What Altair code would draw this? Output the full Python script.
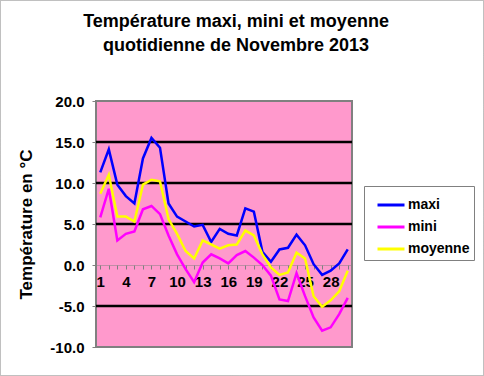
import altair as alt
import pandas as pd

days = list(range(1, 31))
maxi = [11.3, 14.1, 9.8, 8.4, 7.5, 13.0, 15.5, 14.3, 7.5, 5.9,
        5.3, 4.7, 4.9, 2.8, 4.4, 3.8, 3.6, 6.9, 6.5, 1.6,
        0.4, 1.9, 2.1, 3.7, 2.4, 0.1, -1.2, -0.7, 0.2, 1.9]
mini = [5.8, 9.3, 3.0, 3.8, 4.1, 6.8, 7.2, 6.2, 3.6, 1.3,
        -0.5, -2.1, 0.3, 1.3, 0.8, 0.2, 1.2, 1.7, 0.9, 0.0,
        -1.3, -4.2, -4.4, -1.0, -3.8, -6.4, -8.0, -7.6, -6.0, -4.0]
moyenne = [8.7, 11.0, 5.9, 5.9, 5.3, 9.8, 10.4, 10.2, 5.6, 3.8,
           1.7, 0.8, 3.0, 2.5, 2.0, 2.4, 2.5, 4.2, 3.6, 1.3,
           -0.3, -1.2, -0.9, 1.5, 0.8, -3.8, -5.1, -4.3, -3.2, -0.7]
series_names = ["maxi", "mini", "moyenne"]
series_colors = ["#0000FF", "#FF00FF", "#FFFF00"]
grid_values = [15, 10, 5, -5]
y_ticks = [-10, -5, 0, 5, 10, 15, 20]
x_ticks = days
title_lines = ["Température maxi, mini et moyenne", "quotidienne de Novembre 2013"]

rows = []
for name, vals in zip(series_names, [maxi, mini, moyenne]):
    for d, v in zip(days, vals):
        rows.append({"jour": d, "serie": name, "temp": v})
df = pd.DataFrame(rows)
grid_df = pd.DataFrame({"g": grid_values})

FONT = "Liberation Sans"
W, H = 256, 246
PL, PT = 96, 101

xscale = alt.Scale(domain=[0.5, 30.5], nice=False, zero=False)
yscale = alt.Scale(domain=[-10, 20], nice=False, zero=False)

yaxis = alt.Axis(values=y_ticks, grid=False,
                 labelExpr="replace(format(datum.value, '.1f'), '\u2212', '-')",
                 title="Température en °C", titleFont=FONT, titleFontSize=17,
                 titleFontWeight="bold", titleColor="black", titlePadding=14,
                 domainColor="#808080", tickColor="#808080", tickSize=4,
                 labelFont=FONT, labelFontSize=15, labelFontWeight="bold",
                 labelColor="black", labelPadding=8)

grid = alt.Chart(grid_df).mark_rule(color="black", strokeWidth=2.5).encode(
    y=alt.Y("g:Q", scale=yscale, axis=yaxis)
)

one = pd.DataFrame({"a": [0]})
frame = alt.Chart(one).mark_rect(
    fill=None, stroke="#808080", strokeWidth=1, strokeDash=[1, 1]
).encode(
    x=alt.value(-PL + 0.5), x2=alt.value(484 - PL - 0.5),
    y=alt.value(-PT + 0.5), y2=alt.value(376 - PT - 0.5)
)

t1 = alt.Chart(one).mark_text(
    text=title_lines[0], font=FONT, fontSize=18, fontWeight="bold",
    color="black", align="center", baseline="middle"
).encode(x=alt.value(236 - PL), y=alt.value(22 - PT))
t2 = alt.Chart(one).mark_text(
    text=title_lines[1], font=FONT, fontSize=18, fontWeight="bold",
    color="black", align="center", baseline="middle"
).encode(x=alt.value(236 - PL), y=alt.value(46 - PT))

lines = alt.Chart(df).mark_line(strokeWidth=2.5).encode(
    x=alt.X("jour:Q", scale=xscale,
            axis=alt.Axis(values=x_ticks, title=None, grid=False,
                          labelExpr="(datum.value - 1) % 3 == 0 ? datum.label : ''",
                          offset=-82, domainColor="#808080", domainDash=[1, 1],
                          tickColor="#808080", tickSize=4,
                          labelFont=FONT, labelFontSize=15, labelFontWeight="bold",
                          labelColor="black", labelPadding=5, labelFlush=False,
                          labelOverlap=False)),
    y=alt.Y("temp:Q", scale=yscale, axis=yaxis),
    color=alt.Color("serie:N",
                    scale=alt.Scale(domain=series_names, range=series_colors),
                    legend=alt.Legend(title=None, orient="none",
                                      legendX=268, legendY=85,
                                      fillColor="white", strokeColor="#808080",
                                      padding=4, symbolType="stroke",
                                      symbolSize=729, symbolStrokeWidth=3,
                                      symbolOffset=8, rowPadding=0,
                                      labelFont=FONT, labelFontSize=14,
                                      labelFontWeight="bold", labelColor="black",
                                      labelOffset=2)),
    order=alt.Order("jour:Q"),
)

chart = alt.layer(frame, grid, lines, t1, t2).properties(
    width=W, height=H,
    padding={"left": PL, "top": PT, "right": 484 - PL - W, "bottom": 376 - PT - H},
    autosize=alt.AutoSizeParams(type="none"),
    background="white",
).configure_view(
    fill="#FF99CC", stroke="#808080", strokeWidth=2
)

chart.save("out.html", embed_options={"renderer": "svg", "actions": False})
